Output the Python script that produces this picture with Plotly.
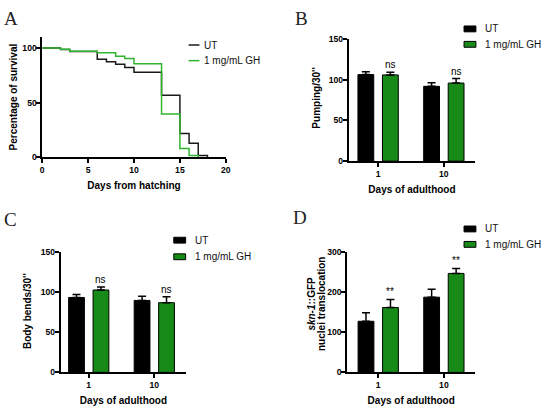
import plotly.graph_objects as go

# survival (A)
ut_days = [0, 2, 3, 6, 7, 8, 9, 10, 13, 15, 16, 17, 18]
ut_surv = [100, 98.5, 96.7, 89.7, 87.4, 85.0, 82.0, 77.8, 56.6, 21.7, 12.8, 1.5, 0]
gh_days = [0, 2, 3, 6, 8, 9, 10, 13, 15, 16, 17]
gh_surv = [100, 98.8, 97.0, 95.7, 92.4, 90.3, 85.6, 39.6, 8.0, 1.5, 0]

# bar panels (B, C, D)
days = ["1", "10"]
pump_ut = [106.4, 92.0]
pump_ut_err = [3.6, 4.4]
pump_gh = [106.0, 96.0]
pump_gh_err = [3.2, 5.6]
pump_sig = ["ns", "ns"]

bends_ut = [93.5, 89.8]
bends_ut_err = [3.7, 5.3]
bends_gh = [102.8, 87.0]
bends_gh_err = [3.7, 7.3]
bends_sig = ["ns", "ns"]

skn_ut = [127.6, 187.8]
skn_ut_err = [21.2, 19.5]
skn_gh = [161.8, 247.0]
skn_gh_err = [20.2, 12.3]
skn_sig = ["**", "**"]

W, H = 550, 414
FONT = "Arial, Liberation Sans, sans-serif"
SERIF = "Times New Roman, Liberation Serif, serif"
BLACK = "#000000"
GREEN = "#178a17"
LINE_GREEN = "#2fb52f"
BARGAP = 0.254


def px(x):
    return x / W


def py(y):
    return 1 - y / H


fig = go.Figure()

# A: survival curves
fig.add_trace(go.Scatter(x=ut_days, y=ut_surv, mode="lines", line_shape="hv",
                         line=dict(color="#1a1a1a", width=1.5), xaxis="x", yaxis="y"))
fig.add_trace(go.Scatter(x=gh_days, y=gh_surv, mode="lines", line_shape="hv",
                         line=dict(color=LINE_GREEN, width=1.5), xaxis="x", yaxis="y"))


def add_bars(xa, ya, ut, ut_err, gh, gh_err, sig):
    for vals, err, col in [(ut, ut_err, BLACK), (gh, gh_err, GREEN)]:
        fig.add_trace(go.Bar(
            x=days, y=vals, xaxis=xa, yaxis=ya,
            marker=dict(color=col, line=dict(color=BLACK, width=1)),
            error_y=dict(type="data", array=err, arrayminus=[0] * len(err),
                         symmetric=False, color=BLACK, thickness=1.5, width=4),
        ))
    off = (1 - BARGAP) / 4
    for i, s in enumerate(sig):
        fig.add_annotation(x=i + off, y=gh[i] + gh_err[i], xref=xa, yref=ya,
                           text=s, showarrow=False, yanchor="bottom",
                           font=dict(family=FONT, size=10, color=BLACK))


add_bars("x2", "y2", pump_ut, pump_ut_err, pump_gh, pump_gh_err, pump_sig)
add_bars("x3", "y3", bends_ut, bends_ut_err, bends_gh, bends_gh_err, bends_sig)
add_bars("x4", "y4", skn_ut, skn_ut_err, skn_gh, skn_gh_err, skn_sig)

tickfont = dict(family=FONT, size=8.6, color=BLACK, weight="bold")
titlefont = dict(family=FONT, size=10, color=BLACK, weight="bold")
ax = dict(showline=True, linecolor=BLACK, linewidth=1.5, ticks="outside",
          ticklen=4, tickwidth=1.5, tickcolor=BLACK, showgrid=False,
          zeroline=False, tickfont=tickfont, fixedrange=True)
yax = dict(ax, ticklabelstandoff=-2)

top_y = [py(160), py(35)]
bot_y = [py(376.5), py(253.3)]


def xtitle(text):
    return dict(text=text, font=titlefont, standoff=8)


fig.update_layout(
    width=W, height=H, margin=dict(l=0, r=0, t=0, b=0),
    paper_bgcolor="white", plot_bgcolor="white",
    showlegend=False, barmode="group", bargap=BARGAP, bargroupgap=0.355,
    xaxis=dict(ax, domain=[px(40.7), px(226.7)], range=[0, 20], tickvals=[0, 5, 10, 15, 20],
               title=xtitle("Days from hatching"), anchor="y"),
    yaxis=dict(yax, domain=[py(156), py(32.8)], range=[0, 110], tickvals=[0, 50, 100], anchor="x"),
    xaxis2=dict(ax, domain=[px(351), px(479.5)], type="category", range=[-0.45, 1.48],
                title=xtitle("Days of adulthood"), anchor="y2"),
    yaxis2=dict(yax, domain=top_y, range=[0, 150], tickvals=[0, 50, 100, 150], anchor="x2"),
    xaxis3=dict(ax, domain=[px(59.3), px(186.8)], type="category", range=[-0.43, 1.49],
                title=xtitle("Days of adulthood"), anchor="y3"),
    yaxis3=dict(yax, domain=bot_y, range=[0, 150], tickvals=[0, 50, 100, 150], anchor="x3"),
    xaxis4=dict(ax, domain=[px(349.5), px(479.5)], type="category", range=[-0.475, 1.48],
                title=xtitle("Days of adulthood"), anchor="y4"),
    yaxis4=dict(yax, domain=bot_y, range=[0, 300], tickvals=[0, 100, 200, 300], anchor="x4"),
)

# y-axis titles placed where the reference has them (D is two tight lines)
ytitles = [
    ("Percentage of survival", 11.5, 94.4),
    ("Pumping/30''", 319, 95),
    ("Body bends/30''", 26, 314),
    ("<i>skn-1</i>::GFP", 313.5, 306.5),
    ("nuclei translocation", 323, 306.5),
]
for text, x, y in ytitles:
    fig.add_annotation(x=px(x), y=py(y), xref="paper", yref="paper", text=text,
                       textangle=-90, showarrow=False, xanchor="center", yanchor="middle",
                       font=dict(family=FONT, size=10, color=BLACK, weight="bold"))

# panel letters
for letter, x, y in [("A", 0.5, 14), ("B", 295, 14), ("C", 0.5, 220), ("D", 293, 218)]:
    fig.add_annotation(x=px(x), y=py(y), xref="paper", yref="paper", text=letter,
                       showarrow=False, xanchor="left", yanchor="middle",
                       font=dict(family=SERIF, size=19, color="#222"))

legend_font = dict(family=FONT, size=10, color="#111")

# legend A (lines)
for yy, col, label in [(41, "#1a1a1a", "UT"), (57, LINE_GREEN, "1 mg/mL GH")]:
    fig.add_shape(type="line", xref="paper", yref="paper", x0=px(189), x1=px(200),
                  y0=py(yy), y1=py(yy), line=dict(color=col, width=1.5))
    fig.add_annotation(x=px(203), y=py(yy), xref="paper", yref="paper", text=label,
                       showarrow=False, xanchor="left", yanchor="middle", font=legend_font)

# legends B, C, D (boxes)
for x0, ys in [(468, (24.5, 40.3)), (174, (241, 258)), (468, (229.5, 245.3))]:
    for yy, col, label in [(ys[0], BLACK, "UT"), (ys[1], GREEN, "1 mg/mL GH")]:
        fig.add_shape(type="rect", xref="paper", yref="paper", x0=px(x0), x1=px(x0 + 12),
                      y0=py(yy - 3), y1=py(yy + 3), fillcolor=col,
                      line=dict(color=BLACK, width=1))
        fig.add_annotation(x=px(x0 + 19), y=py(yy), xref="paper", yref="paper", text=label,
                           showarrow=False, xanchor="left", yanchor="middle", font=legend_font)

# the page body has a default 8px margin; drop it so the figure fills the window
fig.write_html("out.html", config={"displayModeBar": False},
               post_script="document.body.style.margin='0';")
